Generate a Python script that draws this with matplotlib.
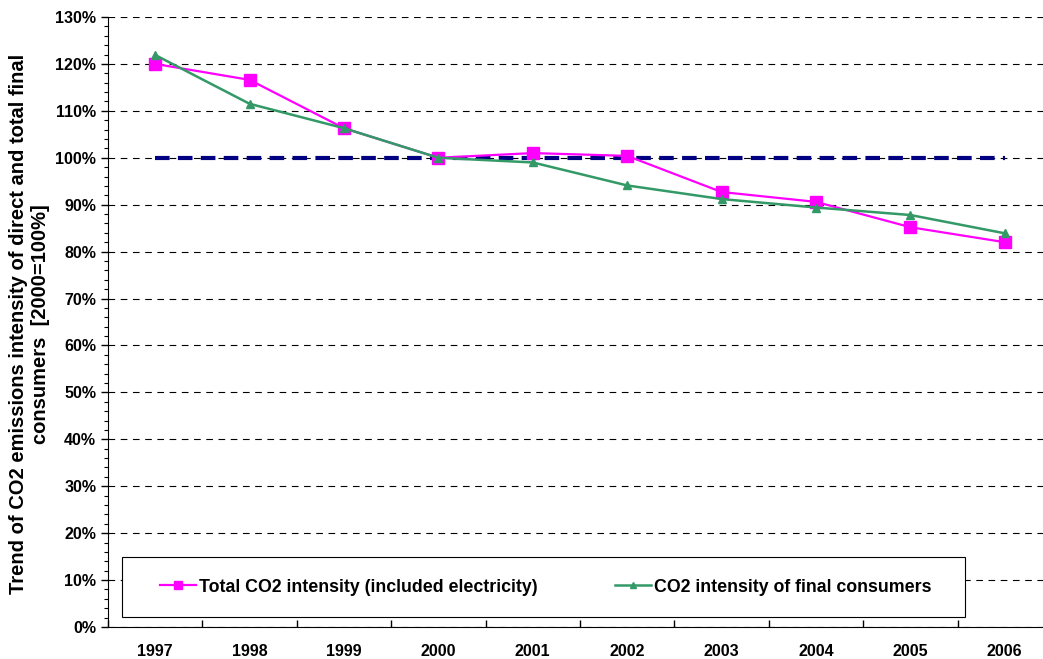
import matplotlib.pyplot as plt
from matplotlib.patches import Rectangle
from matplotlib.ticker import MultipleLocator, FuncFormatter

years = ['1997', '1998', '1999', '2000', '2001', '2002', '2003', '2004', '2005', '2006']
total_co2 = [120.0, 116.6, 106.3, 100.0, 101.0, 100.4, 92.7, 90.6, 85.2, 82.0]
final_co2 = [121.9, 111.5, 106.3, 100.0, 99.0, 94.1, 91.2, 89.4, 87.8, 83.9]
baseline = [100] * len(years)

plt.rcParams['font.family'] = ['Liberation Sans', 'DejaVu Sans']
plt.rcParams['font.weight'] = 'bold'

fig = plt.figure(figsize=(10.43, 6.59), dpi=100)
ax = fig.add_axes([108 / 1043, 32 / 659, 944 / 1043, 610 / 659])

x = list(range(len(years)))
ax.plot(x, baseline, color='#000080', lw=3, dashes=(3.5, 2), zorder=3)
ax.plot(x, total_co2, color='#ff00ff', lw=1.6, marker='s', ms=9,
        label='Total CO2 intensity (included electricity)', zorder=4)
ax.plot(x, final_co2, color='#339966', lw=1.8, marker='^', ms=6,
        label='CO2 intensity of final consumers', zorder=5)

ax.set_xlim(-0.5, 9.5)
ax.set_ylim(0, 130)
ax.yaxis.set_major_locator(MultipleLocator(10))
ax.yaxis.set_minor_locator(MultipleLocator(2))
ax.yaxis.set_major_formatter(FuncFormatter(lambda v, p: f'{int(round(v))}%'))
ax.grid(axis='y', which='major', color='black', ls=(0, (6, 5)), lw=0.8)
ax.set_axisbelow(True)

ax.set_xticks([i + 0.5 for i in range(-1, 10)], minor=False)
ax.set_xticklabels([])
ax.set_xticks(x, minor=True)
ax.set_xticklabels(years, minor=True)
ax.tick_params(axis='x', which='major', direction='in', length=5, width=1)
ax.tick_params(axis='x', which='minor', length=0, pad=12, labelsize=11.5)
ax.tick_params(axis='y', which='major', direction='out', length=5, width=1, labelsize=11.5)
ax.tick_params(axis='y', which='minor', direction='out', length=3, width=0.8)

for s in ['top', 'right']:
    ax.spines[s].set_visible(False)

ax.set_ylabel('Trend of CO2 emissions intensity of direct and total final\nconsumers  [2000=100%]',
              fontsize=14.5, fontweight='bold')
ax.yaxis.set_label_coords(-0.061, 0.497)

# legend box (white, covers grid) with the legend entries inside
box = Rectangle((14 / 944, 10 / 610), 843 / 944, 60 / 610, transform=ax.transAxes,
                facecolor='white', edgecolor='black', lw=0.8, zorder=6)
ax.add_patch(box)
leg = ax.legend(loc='center left', bbox_to_anchor=(52 / 944, 10 / 610, 772 / 944, 60 / 610),
                mode='expand', ncol=2, fontsize=12.8, frameon=False,
                markerscale=0.7, handlelength=2.0, handletextpad=0.2,
                borderaxespad=0, borderpad=0)
leg.set_zorder(7)

plt.savefig('out.png', dpi=100)
